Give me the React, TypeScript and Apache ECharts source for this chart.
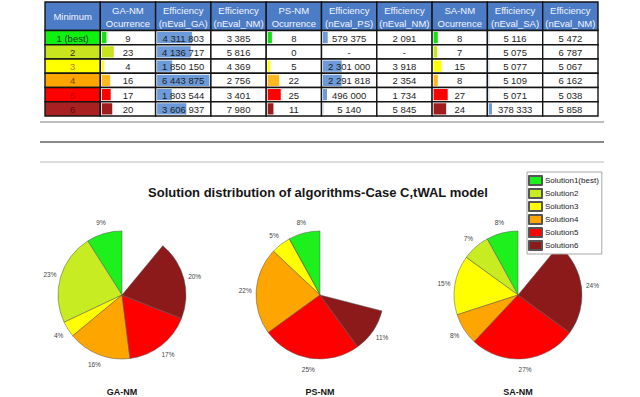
import React, { useEffect, useRef } from 'react';
import * as echarts from 'echarts';

// ---------- data ----------
const solutions = ['Solution1(best)', 'Solution2', 'Solution3', 'Solution4', 'Solution5', 'Solution6'];
const minimumLabels = ['1 (best)', '2', '3', '4', '5', '6'];
const algorithms = ['GA-NM', 'PS-NM', 'SA-NM'];
const headers = [
  'Minimum',
  'GA-NM\nOcurrence', 'Efficiency\n(nEval_GA)', 'Efficiency\n(nEval_NM)',
  'PS-NM\nOcurrence', 'Efficiency\n(nEval_PS)', 'Efficiency\n(nEval_NM)',
  'SA-NM\nOcurrence', 'Efficiency\n(nEval_SA)', 'Efficiency\n(nEval_NM)',
];
const gaOccurrence = [9, 23, 4, 16, 17, 20];
const gaEvalGA = [4311803, 4136717, 1850150, 6443875, 1803544, 3606937];
const gaEvalNM = [3385, 5816, 4369, 2756, 3401, 7980];
const psOccurrence = [8, 0, 5, 22, 25, 11];
const psEvalPS: (number | null)[] = [579375, null, 2301000, 2291818, 496000, 5140];
const psEvalNM: (number | null)[] = [2091, null, 3918, 2354, 1734, 5845];
const saOccurrence = [8, 7, 15, 8, 27, 24];
const saEvalSA = [5116, 5075, 5077, 5109, 5071, 378333];
const saEvalNM = [5472, 6787, 5067, 6162, 5038, 5858];
const totalRuns = 100;

// ---------- styles ----------
const FONT = '"Liberation Sans", Arial, sans-serif';
const solutionColors = ['#1ef01e', '#c8ec22', '#ffff00', '#ffa500', '#ff0000', '#8c1a1a'];
const minCellColors = ['#10f010', '#c8e41e', '#ffff00', '#ffa500', '#ff0000', '#a82020'];
const minTextColors = ['#1c3a1c', '#333300', '#c87800', '#7a4400', '#c00000', '#5a0c0c'];
const occBarColors = ['#10e010', '#c8e41e', '#ffff00', '#ffb820', '#ff0000', '#a01c1c'];
const effBarColor = '#6d9bd9';
const headerColor = '#4c7cc6';
const pieCenters = [[122, 295], [320, 295], [518, 295]];

const fmt = (v: number | null) =>
  v == null ? '-' : String(v).replace(/\B(?=(\d{3})+(?!\d))/g, ' ');

type Col = { kind: 'min' | 'occ' | 'eff' | 'num'; values?: (number | null)[] };
const columns: Col[] = [
  { kind: 'min' },
  { kind: 'occ', values: gaOccurrence },
  { kind: 'eff', values: gaEvalGA },
  { kind: 'num', values: gaEvalNM },
  { kind: 'occ', values: psOccurrence },
  { kind: 'eff', values: psEvalPS },
  { kind: 'num', values: psEvalNM },
  { kind: 'occ', values: saOccurrence },
  { kind: 'eff', values: saEvalSA },
  { kind: 'num', values: saEvalNM },
];

const effMax = Math.max(
  ...[...gaEvalGA, ...psEvalPS, ...saEvalSA].filter((v) => v != null) as number[]
);

type Cell = {
  c: number; r: number; h: number; text: string; bg: string; color: string;
  bar: number; barColor: string; header?: boolean;
};
const cells: Cell[] = [];
headers.forEach((t, c) => {
  cells.push({ c, r: 0, h: 2, text: t, bg: headerColor, color: '#f2f5ff', bar: 0, barColor: '', header: true });
});
for (let i = 0; i < 6; i++) {
  columns.forEach((col, c) => {
    if (col.kind === 'min') {
      cells.push({ c, r: i + 2, h: 1, text: minimumLabels[i], bg: minCellColors[i], color: minTextColors[i], bar: 0, barColor: '' });
    } else {
      const v = col.values![i];
      let bar = 0;
      let barColor = '';
      if (col.kind === 'occ' && v != null) { bar = v / totalRuns; barColor = occBarColors[i]; }
      if (col.kind === 'eff' && v != null) { bar = v / effMax; barColor = effBarColor; }
      cells.push({ c, r: i + 2, h: 1, text: fmt(v), bg: '#ffffff', color: '#1e1e1e', bar, barColor });
    }
  });
}

function pieData(occ: number[]) {
  const sum = occ.reduce((a, b) => a + b, 0);
  const items: any[] = solutions.map((name, i) => ({
    name,
    value: occ[i],
    itemStyle: { color: solutionColors[i] },
    label: { show: occ[i] > 0 },
  }));
  items.push({
    name: '',
    value: totalRuns - sum,
    itemStyle: { color: 'rgba(0,0,0,0)', borderWidth: 0 },
    label: { show: false },
    labelLine: { show: false },
  });
  return items;
}

export default function App() {
  const ref = useRef<HTMLDivElement>(null);
  useEffect(() => {
    if (!ref.current) return;
    const chart = echarts.init(ref.current, undefined, { renderer: 'svg' });
    const occs = [gaOccurrence, psOccurrence, saOccurrence];
    const option: any = {
      animation: false,
      backgroundColor: '#ffffff',
      grid: { left: 45, top: 2, width: 553, height: 114 },
      xAxis: { type: 'value', min: 0, max: 10, show: false },
      yAxis: { type: 'value', min: 0, max: 8, inverse: true, show: false },
      legend: {
        orient: 'vertical',
        left: 527,
        top: 172,
        data: solutions,
        icon: 'rect',
        itemWidth: 13,
        itemHeight: 9,
        itemGap: 2,
        padding: [3, 3, 3, 1],
        borderColor: '#a8a8a8',
        borderWidth: 1,
        backgroundColor: '#ffffff',
        selectedMode: false,
        textStyle: { fontSize: 8, color: '#222', fontFamily: FONT, padding: [0, 0, 0, -2] },
      },
      graphic: [
        { type: 'line', shape: { x1: 40, y1: 122, x2: 604, y2: 122 }, style: { stroke: '#a8a8a8', lineWidth: 1.5 } },
        { type: 'line', shape: { x1: 40, y1: 142, x2: 604, y2: 142 }, style: { stroke: '#8a8a8a', lineWidth: 2 } },
        { type: 'line', shape: { x1: 40, y1: 162, x2: 604, y2: 162 }, style: { stroke: '#d0d0d0', lineWidth: 1.5 } },
        {
          type: 'text', x: 318, y: 192,
          style: {
            text: 'Solution distribution of algorithms-Case C,tWAL model',
            font: `bold 13px ${FONT}`, fill: '#151515',
            textAlign: 'center', textVerticalAlign: 'middle', align: 'center', verticalAlign: 'middle',
          },
        },
        ...algorithms.map((a, k) => ({
          type: 'text', x: pieCenters[k][0], y: 392,
          style: {
            text: a, font: `bold 9px ${FONT}`, fill: '#151515',
            textAlign: 'center', textVerticalAlign: 'middle', align: 'center', verticalAlign: 'middle',
          },
        })),
      ],
      series: [
        {
          type: 'custom',
          coordinateSystem: 'cartesian2d',
          silent: true,
          data: cells.map((cell) => [cell.c, cell.r]),
          renderItem: (params: any, api: any) => {
            const cell = cells[params.dataIndex];
            const p0 = api.coord([cell.c, cell.r]);
            const p1 = api.coord([cell.c + 1, cell.r + cell.h]);
            const x = p0[0], y = p0[1], w = p1[0] - p0[0], h = p1[1] - p0[1];
            const children: any[] = [
              { type: 'rect', shape: { x, y, width: w, height: h }, style: { fill: cell.bg, stroke: '#141414', lineWidth: 1.4 } },
            ];
            if (cell.bar > 0) {
              children.push({
                type: 'rect',
                shape: { x: x + 1.5, y: y + 1.5, width: Math.max(cell.bar * (w - 3), 0.3), height: h - 3 },
                style: { fill: cell.barColor },
              });
            }
            children.push({
              type: 'text',
              style: {
                text: cell.text, x: x + w / 2, y: y + h / 2 + 0.5,
                textAlign: 'center', textVerticalAlign: 'middle', align: 'center', verticalAlign: 'middle',
                fill: cell.color, font: `${cell.header ? 9.5 : 9.5}px ${FONT}`, lineHeight: 13,
              },
            });
            return { type: 'group', children };
          },
        },
        ...occs.map((occ, k) => ({
          type: 'pie',
          name: algorithms[k],
          center: pieCenters[k],
          radius: 64,
          startAngle: 90,
          clockwise: false,
          avoidLabelOverlap: false,
          emphasis: { disabled: true },
          silent: true,
          itemStyle: { borderColor: '#555555', borderWidth: 0.5 },
          label: {
            position: 'outside',
            formatter: '{c}%',
            fontSize: 6.5,
            color: '#444444',
            fontFamily: FONT,
          },
          labelLine: { show: true, length: 11, length2: 0, lineStyle: { opacity: 0 } },
          labelLayout: (p: any) => {
            const pts = p.labelLinePoints;
            if (!pts) return {};
            return { x: pts[1][0], y: pts[1][1], align: 'center', verticalAlign: 'middle' };
          },
          data: pieData(occ),
        })),
      ],
    };
    chart.setOption(option);
    return () => chart.dispose();
  }, []);
  return (
    <div
      ref={ref}
      style={{ position: 'fixed', left: 0, top: 0, width: 640, height: 397, background: '#fff' }}
    />
  );
}
